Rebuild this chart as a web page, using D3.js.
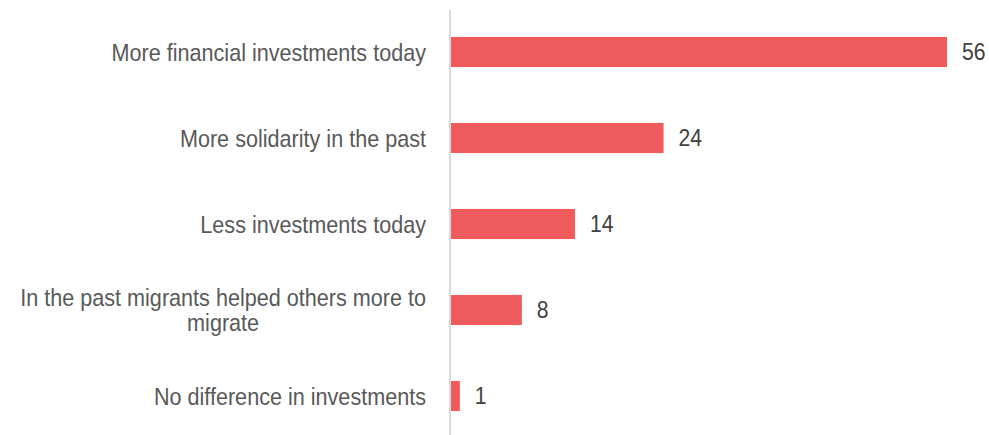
<!DOCTYPE html>
<html>
<head>
<meta charset="utf-8">
<script src="https://cdn.jsdelivr.net/npm/d3@7"></script>
<style>
  html, body { margin: 0; padding: 0; background: #fff; }
  svg { display: block; }
  text { font-family: "Liberation Sans", Arial, sans-serif; }
</style>
</head>
<body>
<svg id="chart" width="989" height="435"></svg>
<script>
const categories = [
  "More financial investments today",
  "More solidarity in the past",
  "Less investments today",
  "In the past migrants helped others more to migrate",
  "No difference in investments"
];
const values = [56, 24, 14, 8, 1];
const labelLines = [
  ["More financial investments today"],
  ["More solidarity in the past"],
  ["Less investments today"],
  ["In the past migrants helped others more to", "migrate"],
  ["No difference in investments"]
];

const svg = d3.select("#chart");
const narrow = 0.9;
const x = d3.scaleLinear().domain([0, 56]).range([451, 947]);
const y = d3.scaleBand().domain(categories).range([9, 439]).paddingInner(0.65).paddingOuter(0.325);

// axis line
svg.append("line")
  .attr("x1", 450).attr("x2", 450)
  .attr("y1", 10).attr("y2", 435)
  .attr("stroke", "#d9d9d9").attr("stroke-width", 2);

// bars
svg.selectAll("rect.bar").data(categories).enter().append("rect")
  .attr("class", "bar")
  .attr("x", x(0))
  .attr("y", d => y(d))
  .attr("width", (d, i) => x(values[i]) - x(0))
  .attr("height", y.bandwidth())
  .attr("fill", "#EF5A5C");

// value labels
svg.selectAll("text.val").data(categories).enter().append("text")
  .attr("class", "val")
  .attr("transform", (d, i) => `translate(${x(values[i]) + 15},${y(d) + y.bandwidth() / 2}) scale(${narrow},1)`)
  .attr("dy", "0.36em")
  .attr("font-size", 23.5)
  .attr("fill", "#404040")
  .text((d, i) => values[i]);

// category labels
const lineH = 25;
const right = 426;
categories.forEach((c, i) => {
  const lines = labelLines[i];
  const cy = y(c) + y.bandwidth() / 2;
  const t = svg.append("text")
    .attr("transform", `translate(${right},${cy}) scale(${narrow},1)`)
    .attr("font-size", 24)
    .attr("fill", "#595959")
    .attr("text-anchor", "middle");
  const n = lines.length;
  const tspans = lines.map((ln, k) => t.append("tspan")
    .attr("y", (k - (n - 1) / 2) * lineH)
    .attr("dy", "0.36em")
    .text(ln));
  const widths = tspans.map(ts => ts.node().getComputedTextLength());
  const maxW = d3.max(widths);
  tspans.forEach(ts => ts.attr("x", -maxW / 2));
});
</script>
</body>
</html>
